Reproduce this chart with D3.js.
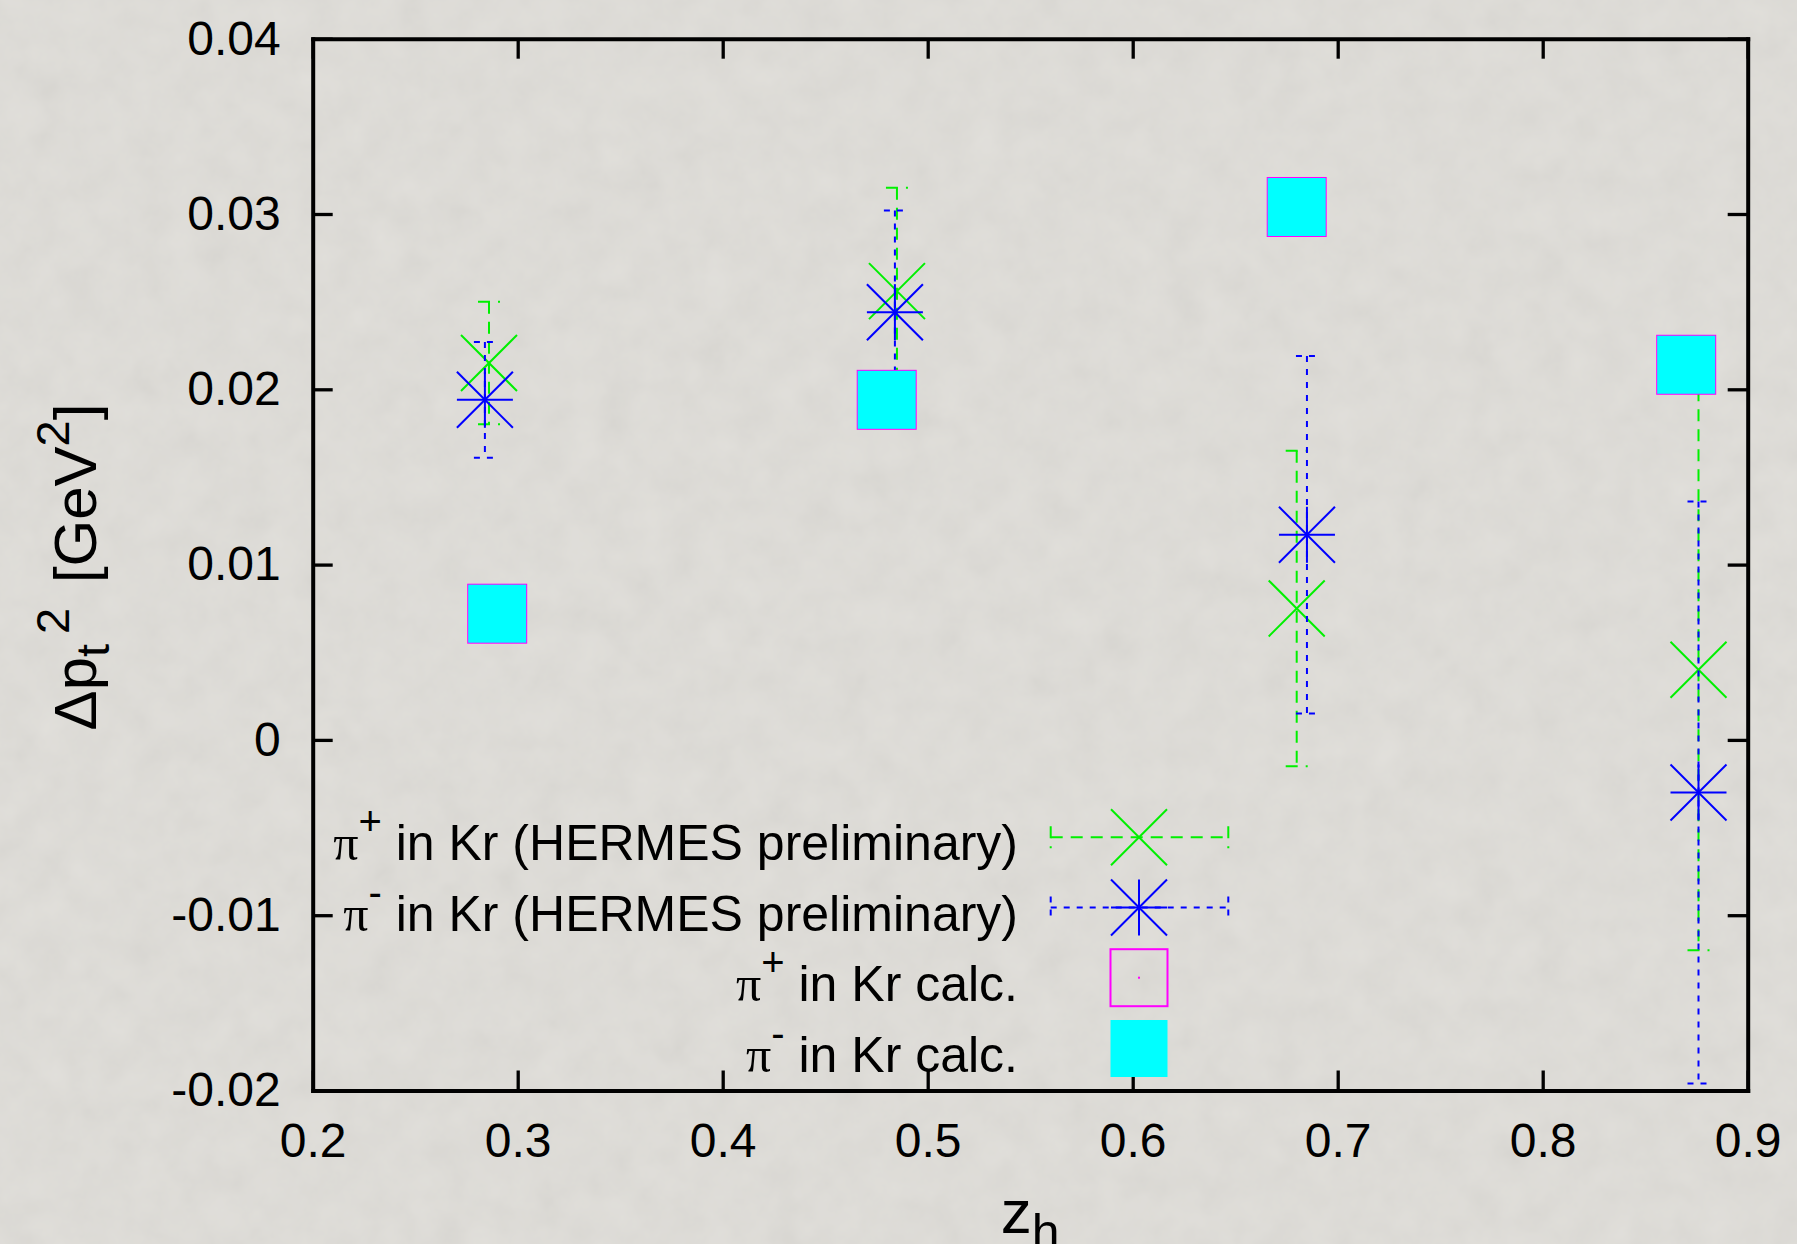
<!DOCTYPE html>
<html>
<head>
<meta charset="utf-8">
<script src="https://cdn.jsdelivr.net/npm/d3@7"></script>
<style>
  html, body { margin: 0; padding: 0; background: #dddbd6; }
  svg { display: block; }
</style>
</head>
<body>
<svg id="chart" width="1797" height="1244"></svg>
<script>
// Transverse momentum broadening of pions in krypton versus z_h
const xTickValues = [0.2, 0.3, 0.4, 0.5, 0.6, 0.7, 0.8, 0.9];
const xTickLabels = ["0.2", "0.3", "0.4", "0.5", "0.6", "0.7", "0.8", "0.9"];
const yTickValues = [-0.02, -0.01, 0, 0.01, 0.02, 0.03, 0.04];
const yTickLabels = ["-0.02", "-0.01", "0", "0.01", "0.02", "0.03", "0.04"];

// HERMES preliminary, pi+ in Kr
const piPlusZ    = [0.286, 0.485, 0.680, 0.876];
const piPlusDpt2 = [0.0215, 0.0256, 0.0075, 0.0040];
const piPlusErr  = [0.0035, 0.0059, 0.0090, 0.0160];

// HERMES preliminary, pi- in Kr
const piMinusZ    = [0.284, 0.484, 0.685, 0.876];
const piMinusDpt2 = [0.0194, 0.0244, 0.0117, -0.0030];
const piMinusErr  = [0.0033, 0.0058, 0.0102, 0.0166];

// calculation
const calcZ           = [0.290, 0.480, 0.680, 0.870];
const calcPiPlusDpt2  = [0.0072, 0.0194, 0.0304, 0.0214];
const calcPiMinusDpt2 = [0.0072, 0.0194, 0.0304, 0.0214];

const legendSup  = ["+", "-", "+", "-"];
const legendText = [" in Kr (HERMES preliminary)", " in Kr (HERMES preliminary)", " in Kr calc.", " in Kr calc."];

const GREEN = "#00f000", BLUE = "#0000ff", MAGENTA = "#ff00ff", CYAN = "#00ffff";
const SANS = "'Liberation Sans', Arial, Helvetica, sans-serif";
const SERIF = "'Liberation Serif', 'Times New Roman', serif";

const svg = d3.select("#chart");

// paper-like background
const defs = svg.append("defs");
const f = defs.append("filter").attr("id", "paper").attr("x", 0).attr("y", 0).attr("width", 1).attr("height", 1);
f.append("feTurbulence").attr("type", "fractalNoise").attr("baseFrequency", 0.03).attr("numOctaves", 4).attr("seed", 7);
f.append("feColorMatrix").attr("type", "matrix")
  .attr("values", "0.33 0.33 0.33 0 0  0.33 0.33 0.33 0 0  0.33 0.33 0.33 0 0  0 0 0 0 1");
svg.append("rect").attr("width", 1797).attr("height", 1244).attr("fill", "#e1dfda");
svg.append("rect").attr("width", 1797).attr("height", 1244).attr("filter", "url(#paper)").attr("opacity", 0.09);

const plotLeft = 312.7, plotRight = 1747.7, plotTop = 38.7, plotBottom = 1090.5;
const x = d3.scaleLinear().domain([0.2, 0.9]).range([plotLeft, plotRight]);
const y = d3.scaleLinear().domain([-0.02, 0.04]).range([plotBottom, plotTop]);

function styleAxis(g) {
  g.attr("font-family", null).attr("font-size", null);
  g.select(".domain").attr("stroke", "#000").attr("stroke-width", 4).attr("stroke-linecap", "square");
  g.selectAll(".tick line").attr("stroke", "#000").attr("stroke-width", 3.3);
  g.selectAll(".tick text").attr("fill", "#000").attr("font-family", SANS).attr("font-size", 48);
}

svg.append("g").attr("transform", `translate(0,${plotBottom})`)
  .call(d3.axisBottom(x).tickValues(xTickValues).tickFormat((d, i) => xTickLabels[i])
    .tickSizeInner(-20).tickSizeOuter(0).tickPadding(32))
  .call(styleAxis);
svg.append("g").attr("transform", `translate(0,${plotTop})`)
  .call(d3.axisTop(x).tickValues(xTickValues).tickFormat("").tickSizeInner(-20).tickSizeOuter(0))
  .call(styleAxis);
svg.append("g").attr("transform", `translate(${plotLeft},0)`)
  .call(d3.axisLeft(y).tickValues(yTickValues).tickFormat((d, i) => yTickLabels[i])
    .tickSizeInner(-20).tickSizeOuter(0).tickPadding(32))
  .call(styleAxis);
svg.append("g").attr("transform", `translate(${plotRight},0)`)
  .call(d3.axisRight(y).tickValues(yTickValues).tickFormat("").tickSizeInner(-20).tickSizeOuter(0))
  .call(styleAxis);

// axis titles
const yl = svg.append("text")
  .attr("transform", `translate(96,567) rotate(-90)`)
  .attr("text-anchor", "middle").attr("font-family", SANS).attr("font-size", 60).attr("fill", "#000");
yl.append("tspan").text("Δp");
yl.append("tspan").attr("font-size", 47).attr("dy", 13).text("t");
yl.append("tspan").attr("font-size", 47).attr("dy", -40).attr("dx", 10).text("2");
yl.append("tspan").attr("dy", 27).attr("dx", 8).text(" [GeV");
yl.append("tspan").attr("font-size", 47).attr("dy", -27).text("2");
yl.append("tspan").attr("dy", 27).text("]");

const xl = svg.append("text")
  .attr("x", (plotLeft + plotRight) / 2).attr("y", 1232.7)
  .attr("text-anchor", "middle").attr("font-family", SANS).attr("font-size", 62).attr("fill", "#000");
xl.append("tspan").text("z");
xl.append("tspan").attr("font-size", 50).attr("dy", 16).text("h");

const plot = svg.append("g");
const CAP = 11, HS = 28, SQ = 58;

function errorBars(zs, vs, es, color, dash) {
  const g = plot.append("g").attr("stroke", color).attr("stroke-width", 2).attr("fill", "none")
    .attr("stroke-dasharray", dash);
  zs.forEach((z, i) => {
    const cx = x(z), y0 = y(vs[i] - es[i]), y1 = y(vs[i] + es[i]);
    g.append("line").attr("x1", cx).attr("x2", cx).attr("y1", y1).attr("y2", y0);
    g.append("line").attr("x1", cx - CAP).attr("x2", cx + CAP).attr("y1", y1).attr("y2", y1);
    g.append("line").attr("x1", cx - CAP).attr("x2", cx + CAP).attr("y1", y0).attr("y2", y0);
  });
}

function cross(g, cx, cy) {
  g.append("line").attr("x1", cx - HS).attr("y1", cy - HS).attr("x2", cx + HS).attr("y2", cy + HS);
  g.append("line").attr("x1", cx - HS).attr("y1", cy + HS).attr("x2", cx + HS).attr("y2", cy - HS);
}
function star(g, cx, cy) {
  cross(g, cx, cy);
  g.append("line").attr("x1", cx - HS).attr("y1", cy).attr("x2", cx + HS).attr("y2", cy);
  g.append("line").attr("x1", cx).attr("y1", cy - HS).attr("x2", cx).attr("y2", cy + HS);
}

// pi+ data
errorBars(piPlusZ, piPlusDpt2, piPlusErr, GREEN, "12,8");
const gPlus = plot.append("g").attr("stroke", GREEN).attr("stroke-width", 2);
piPlusZ.forEach((z, i) => cross(gPlus, x(z), y(piPlusDpt2[i])));

// pi- data
errorBars(piMinusZ, piMinusDpt2, piMinusErr, BLUE, "6,7");
const gMinus = plot.append("g").attr("stroke", BLUE).attr("stroke-width", 2);
piMinusZ.forEach((z, i) => star(gMinus, x(z), y(piMinusDpt2[i])));

// calculations
plot.append("g").selectAll("rect").data(calcZ).join("rect")
  .attr("x", d => x(d) - SQ / 2).attr("y", (d, i) => y(calcPiPlusDpt2[i]) - SQ / 2)
  .attr("width", SQ).attr("height", SQ)
  .attr("fill", "none").attr("stroke", MAGENTA).attr("stroke-width", 2);
plot.append("g").selectAll("rect").data(calcZ).join("rect")
  .attr("x", d => x(d) - SQ / 2).attr("y", (d, i) => y(calcPiMinusDpt2[i]) - SQ / 2)
  .attr("width", SQ).attr("height", SQ)
  .attr("fill", CYAN);

// legend
const legendTextX = 1018, sampleX0 = 1050.7, sampleX1 = 1228.3, sampleCx = 1139;
const rowY = [837.3, 907.5, 977.7, 1048.5];
const legend = svg.append("g");
rowY.forEach((ry, i) => {
  const t = legend.append("text").attr("x", legendTextX).attr("y", ry + 23)
    .attr("text-anchor", "end").attr("font-family", SANS).attr("font-size", 50).attr("fill", "#000");
  t.append("tspan").attr("font-family", SERIF).text("π");
  t.append("tspan").attr("font-size", 40).attr("dy", -25).text(legendSup[i]);
  t.append("tspan").attr("dy", 25).text(legendText[i]);
});
[[GREEN, "12,8"], [BLUE, "6,7"]].forEach(([color, dash], i) => {
  const ry = rowY[i];
  const g = legend.append("g").attr("stroke", color).attr("stroke-width", 2).attr("stroke-dasharray", dash);
  g.append("line").attr("x1", sampleX0).attr("x2", sampleX1).attr("y1", ry).attr("y2", ry);
  g.append("line").attr("x1", sampleX0).attr("x2", sampleX0).attr("y1", ry - CAP).attr("y2", ry + CAP);
  g.append("line").attr("x1", sampleX1).attr("x2", sampleX1).attr("y1", ry - CAP).attr("y2", ry + CAP);
  const m = legend.append("g").attr("stroke", color).attr("stroke-width", 2);
  if (i === 0) cross(m, sampleCx, ry); else star(m, sampleCx, ry);
});
legend.append("rect").attr("x", sampleCx - 28.5).attr("y", rowY[2] - 28.5).attr("width", 57).attr("height", 57)
  .attr("fill", "none").attr("stroke", MAGENTA).attr("stroke-width", 2);
legend.append("rect").attr("x", sampleCx - 1).attr("y", rowY[2] - 1).attr("width", 2).attr("height", 2)
  .attr("fill", MAGENTA);
legend.append("rect").attr("x", sampleCx - 28.5).attr("y", rowY[3] - 28.5).attr("width", 57).attr("height", 57)
  .attr("fill", CYAN);
</script>
</body>
</html>
